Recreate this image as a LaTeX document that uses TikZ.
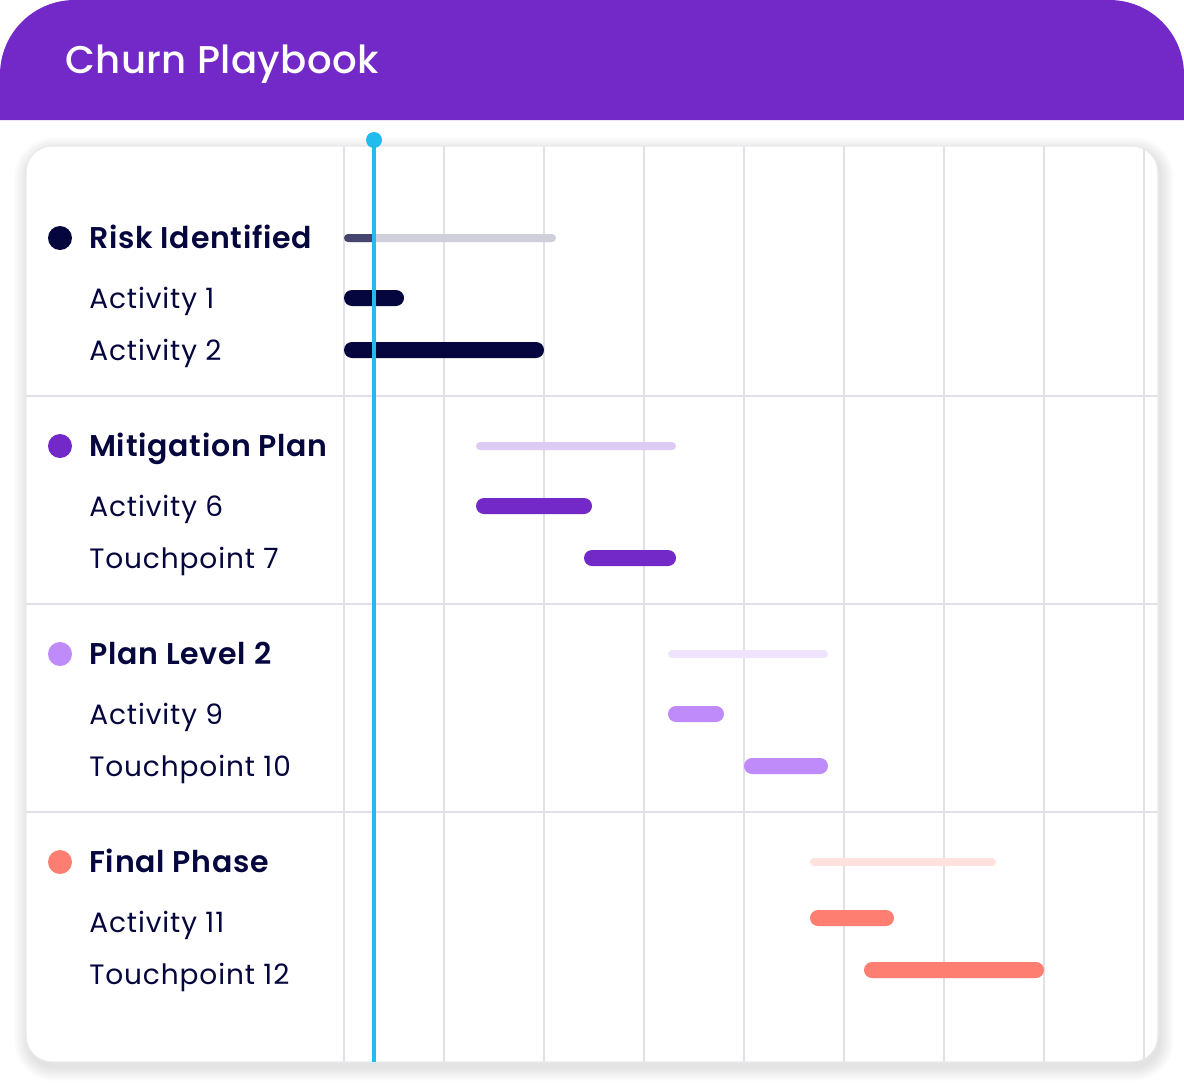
\documentclass[tikz,border=0pt]{standalone}
\usepackage{fontspec}
\setmainfont{Poppins}
\newfontfamily\psemi{Poppins SemiBold}[LetterSpace=2.5]
\newfontfamily\pmed{Poppins Medium}[LetterSpace=1]
\newfontfamily\preg{Poppins}[LetterSpace=3.2]
\definecolor{hdr}{HTML}{7328C8}
\definecolor{navy}{HTML}{06063F}
\definecolor{navyL}{HTML}{CFCFDC}
\definecolor{navyM}{HTML}{45456F}
\definecolor{purp}{HTML}{7328C8}
\definecolor{purpL}{HTML}{DCCBF2}
\definecolor{lav}{HTML}{BF8BFA}
\definecolor{lavL}{HTML}{EFE3FE}
\definecolor{salm}{HTML}{FF7E72}
\definecolor{salmL}{HTML}{FFE1DD}
\definecolor{cyanL}{HTML}{22BBEE}
\definecolor{gridc}{HTML}{E0E0E6}
\tikzset{
  grp/.style={anchor=base west, inner sep=0pt, text=navy, font=\psemi\fontsize{22.5pt}{26pt}\selectfont},
  act/.style={anchor=base west, inner sep=0pt, text=navy, font=\preg\fontsize{21pt}{25pt}\selectfont},
  bar/.style={rounded corners=6pt},
  sbar/.style={rounded corners=3pt},
}
\begin{document}
\begin{tikzpicture}[x=0.75pt,y=-0.75pt]
\useasboundingbox (0,0) rectangle (1184,1088);
% header
\fill[hdr] (0,120) [rounded corners=56pt] -- (0,0) -- (1184,0) [sharp corners] -- (1184,120) -- cycle;
\node[anchor=base west, inner sep=0pt, text=white, font=\pmed\fontsize{29pt}{34pt}\selectfont] (title) at (65,74) {Churn Playbook};
% shadow
\foreach \i in {1,...,14}{
  \fill[black, opacity=0.007, rounded corners=19.5pt+\i*0.75pt] (26-\i+2,146-\i+5) rectangle (1158+\i+2,1062+\i+5);
}
% card
\fill[white, rounded corners=19.5pt] (26,146) rectangle (1158,1062);
\begin{scope}
\clip[rounded corners=19.5pt] (26,146) rectangle (1158,1062);
\foreach \x in {344,444,...,1144}{ \draw[gridc, line width=1.1pt] (\x,146) -- (\x,1062); }
\foreach \y in {396,604,812}{ \draw[gridc, line width=1.1pt] (26,\y) -- (1158,\y); }
\end{scope}
\draw[gridc!70, line width=0.8pt, rounded corners=19.5pt] (26,146) rectangle (1158,1062);
% group 1
\fill[navy] (60,238) circle[radius=9pt];
\node[grp] (g1) at (89,248) {Risk Identified};
\node[act] (a1) at (89,308) {Activity 1};
\node[act] (a2) at (89,360) {Activity 2};
\fill[navyL, sbar] (344,234) rectangle (556,242);
\begin{scope}\clip (340,230) rectangle (374,246);
\fill[navyM, sbar] (344,234) rectangle (556,242);\end{scope}
\fill[navy, bar] (344,290) rectangle (404,306);
\fill[navy, bar] (344,342) rectangle (544,358);
% group 2
\fill[purp] (60,446) circle[radius=9pt];
\node[grp] (g2) at (89,456) {Mitigation Plan};
\node[act] (a6) at (89,516) {Activity 6};
\node[act] (t7) at (89,568) {Touchpoint 7};
\fill[purpL, sbar] (476,442) rectangle (676,450);
\fill[purp, bar] (476,498) rectangle (592,514);
\fill[purp, bar] (584,550) rectangle (676,566);
% group 3
\fill[lav] (60,654) circle[radius=9pt];
\node[grp] (g3) at (89,664) {Plan Level 2};
\node[act] (a9) at (89,724) {Activity 9};
\node[act] (t10) at (89,776) {Touchpoint 10};
\fill[lavL, sbar] (668,650) rectangle (828,658);
\fill[lav, bar] (668,706) rectangle (724,722);
\fill[lav, bar] (744,758) rectangle (828,774);
% group 4
\fill[salm] (60,862) circle[radius=9pt];
\node[grp] (g4) at (89,872) {Final Phase};
\node[act] (a11) at (89,932) {Activity 11};
\node[act] (t12) at (89,984) {Touchpoint 12};
\fill[salmL, sbar] (810,858) rectangle (996,866);
\fill[salm, bar] (810,910) rectangle (894,926);
\fill[salm, bar] (864,962) rectangle (1044,978);
% current time
\draw[cyanL, line width=2.4pt] (374,140) -- (374,1062);
\fill[cyanL] (374,140) circle[radius=6pt];
\end{tikzpicture}
\end{document}
